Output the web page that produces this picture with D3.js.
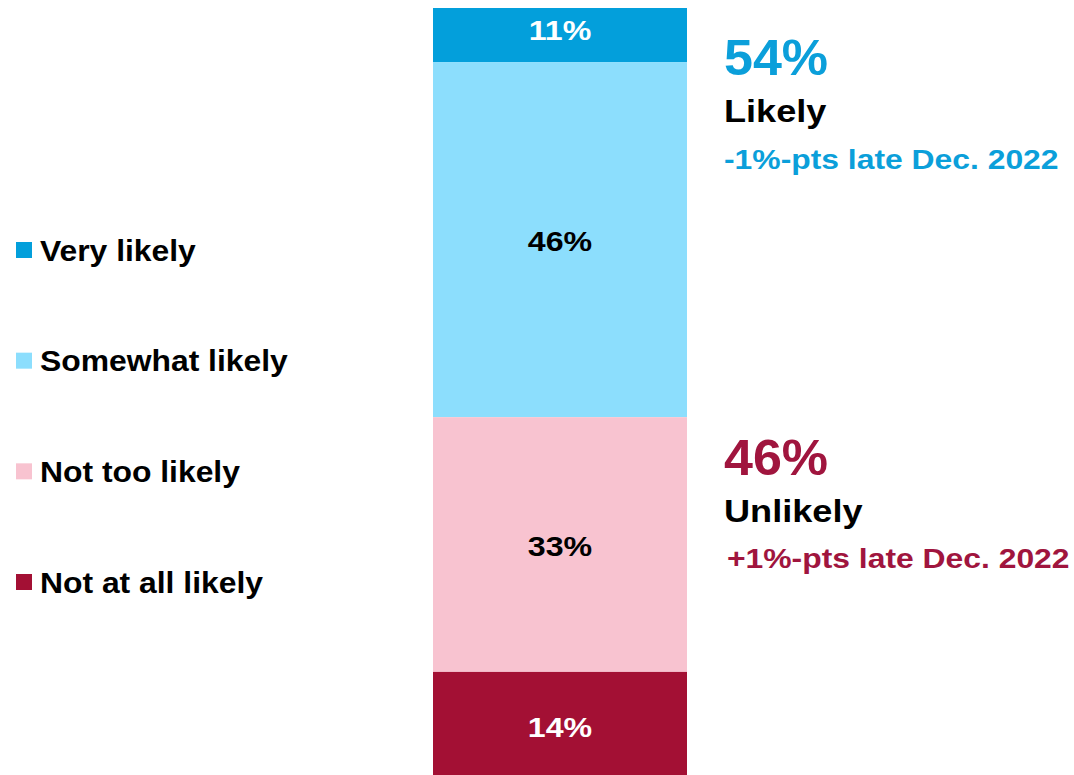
<!DOCTYPE html>
<html><head><meta charset="utf-8">
<script src="https://cdn.jsdelivr.net/npm/d3@7"></script>
<style>
html,body{margin:0;padding:0;background:#fff;overflow:hidden}
svg{display:block}
svg text{font-family:"Liberation Sans",Arial,Helvetica,sans-serif;font-weight:700}
</style></head>
<body>
<svg id="chart" width="1074" height="775"></svg>
<script>
const categories = ["Very likely", "Somewhat likely", "Not too likely", "Not at all likely"];
const values = [7, 46, 33, 14];
const valueLabels = ["11%", "46%", "33%", "14%"];
const colors = ["#039fdb", "#8cdefd", "#f8c3d0", "#a31034"];
const labelColors = ["#ffffff", "#000000", "#000000", "#ffffff"];
const summaryValues = ["54%", "46%"];
const summaryNames = ["Likely", "Unlikely"];
const summaryChanges = ["-1%-pts late Dec. 2022", "+1%-pts late Dec. 2022"];
const summaryColors = ["#0b9fda", "#a0153e"];

const svg = d3.select("#chart");
const total = d3.sum(values);
const y = d3.scaleLinear().domain([0, total]).range([8, 780]);
const x = d3.scaleBand().domain(["all"]).range([433, 687]).padding(0);

let cum = 0;
const stacked = values.map((v, i) => { const s = {i, v, y0: cum, y1: cum + v}; cum += v; return s; });

svg.selectAll("rect.seg").data(stacked).join("rect")
  .attr("class", "seg")
  .attr("x", x("all")).attr("width", x.bandwidth())
  .attr("y", d => y(d.y0)).attr("height", d => y(d.y1) - y(d.y0))
  .attr("fill", d => colors[d.i]);

const cx = x("all") + x.bandwidth() / 2;
svg.selectAll("text.val").data(stacked).join("text")
  .attr("class", "val")
  .attr("transform", d => {
    const c = (y(d.y0) + y(d.y1)) / 2;
    const by = (y(d.y1) - y(d.y0) < 70 ? c + 5 : c + 11);
    return `translate(${cx},${by}) scale(1.17,1)`;
  })
  .attr("text-anchor", "middle")
  .attr("font-size", 27.5)
  .attr("fill", d => labelColors[d.i])
  .text(d => valueLabels[d.i]);

// legend
const legendY = d3.scalePoint().domain(categories).range([250, 582]);
const lg = svg.selectAll("g.leg").data(categories).join("g")
  .attr("class", "leg")
  .attr("transform", c => `translate(16,${legendY(c)})`);
lg.append("rect").attr("x", 0).attr("y", -8).attr("width", 16).attr("height", 16)
  .attr("fill", (c, i) => colors[i]);
lg.append("text").attr("transform", "translate(24,10.5) scale(1.08,1)")
  .attr("font-size", 29.5).attr("fill", "#000")
  .text(c => c);

// summaries
const sumY = [75, 475];
summaryValues.forEach((s, i) => {
  const g = svg.append("g").attr("transform", `translate(724,${sumY[i]})`);
  g.append("text").attr("transform", "translate(0,0) scale(1.03,1)")
    .attr("font-size", 50.5).attr("fill", summaryColors[i]).text(s);
  g.append("text").attr("transform", "translate(0,46.5) scale(1.13,1)")
    .attr("font-size", 32).attr("fill", "#000").text(summaryNames[i]);
  g.append("text").attr("transform", `translate(${i === 0 ? 0 : 3},${i === 0 ? 94.3 : 93}) scale(1.18,1)`)
    .attr("font-size", 27).attr("fill", summaryColors[i]).text(summaryChanges[i]);
});
</script>
</body></html>
